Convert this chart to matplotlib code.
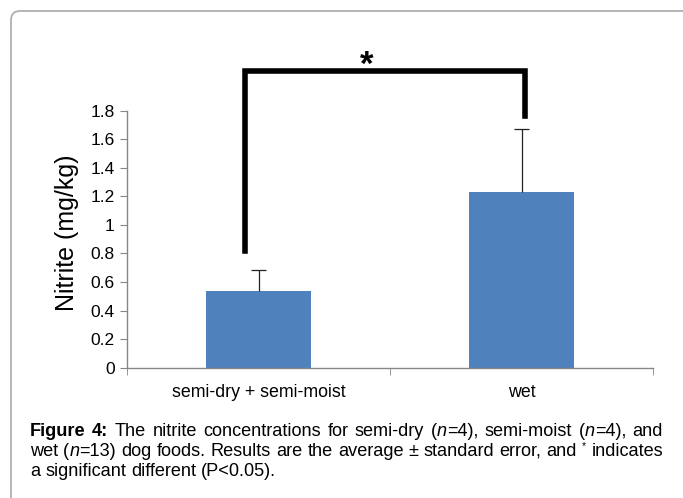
import matplotlib
matplotlib.use("Agg")
import matplotlib.pyplot as plt
from matplotlib.patches import FancyBboxPatch
from matplotlib.transforms import IdentityTransform

plt.rcParams['font.family'] = ['Liberation Sans', 'DejaVu Sans']

categories = ["semi-dry + semi-moist", "wet"]
means = [0.54, 1.23]
errors = [0.145, 0.44]
yticks = [0, 0.2, 0.4, 0.6, 0.8, 1, 1.2, 1.4, 1.6, 1.8]
ytick_labels = ["0", "0.2", "0.4", "0.6", "0.8", "1", "1.2", "1.4", "1.6", "1.8"]
bracket_left_bottom = 0.82
bracket_right_bottom = 1.76
bracket_top = 2.08

W, H = 683, 498
fig = plt.figure(figsize=(W / 100, H / 100), dpi=100)

# rounded frame
frame = FancyBboxPatch((11, -40), 900, H - 11 + 40, boxstyle="round,pad=0,rounding_size=9",
                       transform=IdentityTransform(), fill=False, edgecolor="#b0b0b0",
                       linewidth=1.3)
fig.patches.append(frame)

ax = fig.add_axes([127 / W, 1 - 367.7 / H, (653 - 127) / W, (367.7 - 110.7) / H])
x = list(range(len(categories)))
ax.bar(x, means, width=0.4, color="#4F81BD", zorder=2)
tops = [m + e for m, e in zip(means, errors)]
ax.vlines(x, means, tops, color="#222222", linewidth=0.9, zorder=3)
ax.hlines(tops, [xi - 0.03 for xi in x], [xi + 0.03 for xi in x], color="#222222",
          linewidth=0.9, zorder=3)

ax.set_xlim(-0.5, 1.5)
ax.set_ylim(0, 1.8)
ax.set_yticks(yticks)
ax.set_yticklabels(ytick_labels, fontsize=12.5)
ax.set_xticks(x)
ax.set_xticklabels(categories, fontsize=12.8)
ax.set_xticks([-0.5, 0.5, 1.5], minor=True)
ax.tick_params(axis="x", which="major", length=0, pad=12)
ax.tick_params(axis="x", which="minor", length=5, color="#868686", direction="out")
ax.tick_params(axis="y", length=5, color="#868686", direction="out", pad=4)
for s in ["top", "right"]:
    ax.spines[s].set_visible(False)
for s in ["left", "bottom"]:
    ax.spines[s].set_color("#868686")
    ax.spines[s].set_linewidth(1.0)
ax.set_ylabel("Nitrite (mg/kg)", fontsize=18, va="center")
ax.yaxis.set_label_coords((67 - 127) / (653 - 127), (367.7 - 232.5) / (367.7 - 110.7))

# significance bracket
bx0, bx1 = -0.053, 1.015
ax.plot([bx0, bx0, bx1, bx1], [bracket_left_bottom, bracket_top, bracket_top, bracket_right_bottom],
        color="black", linewidth=4, solid_joinstyle="miter", clip_on=False, zorder=4)
ax.text(0.411, 2.05, "*", fontsize=25, fontweight="bold", ha="center", va="baseline",
        clip_on=False, zorder=5)

# caption with justified lines
B = dict(fontweight="bold")
I = dict(style="italic")
N = dict()
lines = [
    [[("Figure", B)], [("4:", B)], [("The", N)], [("nitrite", N)], [("concentrations", N)],
     [("for", N)], [("semi-dry", N)], [("(", N), ("n", I), ("=4),", N)], [("semi-moist", N)],
     [("(", N), ("n", I), ("=4),", N)], [("and", N)]],
    [[("wet", N)], [("(", N), ("n", I), ("=13)", N)], [("dog", N)], [("foods.", N)],
     [("Results", N)], [("are", N)], [("the", N)], [("average", N)], [("±", N)],
     [("standard", N)], [("error,", N)], [("and", N)], [("*", dict(fontsize=7.5, sup=True))],
     [("indicates", N)]],
    [[("a", N)], [("significant", N)], [("different", N)], [("(P<0.05).", N)]],
]
justify = [True, True, False]
baselines = [436, 456, 476]
x_left, x_right = 30, 663
fs = 13.1
renderer = fig.canvas.get_renderer()


def make(piece, style, px, py):
    kw = dict(style)
    sup = kw.pop("sup", False)
    size = kw.pop("fontsize", fs)
    if sup:
        py -= 7
    return fig.text(px / W, 1 - py / H, piece, fontsize=size, ha="left", va="baseline", **kw)


probe = fig.text(0, 0, "a a", fontsize=fs)
w_aa = fig.text(0, 0, "aa", fontsize=fs)
space_w = probe.get_window_extent(renderer).width - w_aa.get_window_extent(renderer).width
probe.remove()
w_aa.remove()

for line, just, base in zip(lines, justify, baselines):
    objs = []
    widths = []
    for word in line:
        wobjs = []
        ww = 0
        for piece, style in word:
            t = make(piece, style, 0, base)
            w = t.get_window_extent(renderer).width
            wobjs.append((t, w))
            ww += w
        objs.append(wobjs)
        widths.append(ww)
    if just:
        gap = (x_right - x_left - sum(widths)) / (len(line) - 1)
    else:
        gap = space_w
    cx = x_left
    for wobjs, ww in zip(objs, widths):
        px = cx
        for t, w in wobjs:
            t.set_x(px / W)
            px += w
        cx += ww + gap

fig.savefig("out.png", dpi=100)
